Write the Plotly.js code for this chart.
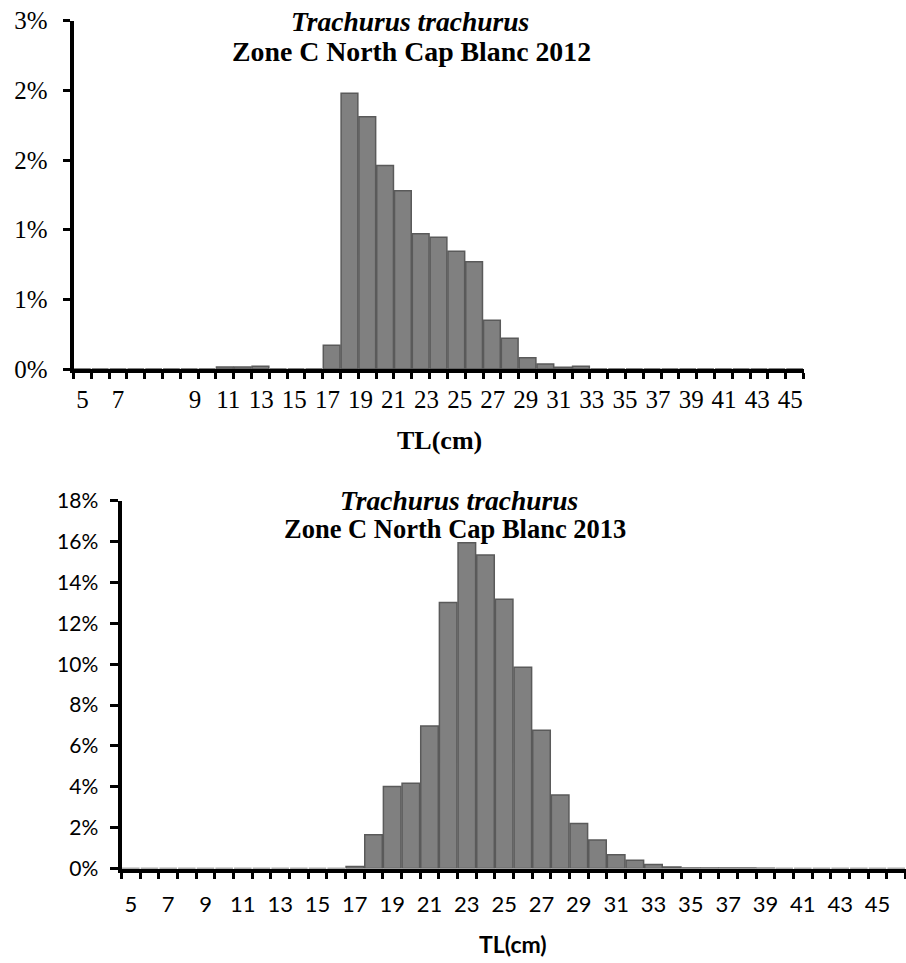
<!DOCTYPE html>
<html>
<head>
<meta charset="utf-8">
<script src="https://cdn.plot.ly/plotly-3.0.1.min.js"></script>
<style>
  html, body { margin: 0; padding: 0; background: #ffffff; }
  #chart { width: 906px; height: 963px; }
</style>
</head>
<body>
<div id="chart"></div>
<script>
// ---------- Data ----------
// 2012 panel: length classes (cm) and share of individuals (%)
const bins2012 = [5,6,7,8,9,10,11,12,13,14,15,16,17,18,19,20,21,22,23,24,25,26,27,28,29,30,31,32,33,34,35,36,37,38,39,40,41,42,43,44,45];
const pct2012  = [0,0,0,0,0,0,0,0,0.015,0.015,0.02,0,0,0,0.17,1.98,1.81,1.46,1.28,0.97,0.945,0.845,0.77,0.35,0.22,0.08,0.036,0.012,0.02,0,0,0,0,0,0,0,0,0,0,0,0];
const xLabels2012 = ['5','7','9','11','13','15','17','19','21','23','25','27','29','31','33','35','37','39','41','43','45'];
const yLabels2012 = ['0%','1%','1%','2%','2%','3%'];

// 2013 panel
const bins2013 = [5,6,7,8,9,10,11,12,13,14,15,16,17,18,19,20,21,22,23,24,25,26,27,28,29,30,31,32,33,34,35,36,37,38,39,40,41,42,43,44,45,46];
const pct2013  = [0,0,0,0,0,0,0,0,0,0,0,0,0.1,1.65,4.01,4.17,6.97,13.02,15.94,15.34,13.18,9.85,6.76,3.6,2.2,1.4,0.67,0.4,0.2,0.07,0.03,0.02,0.02,0.02,0.01,0,0,0,0,0,0,0];
const xLabels2013 = ['5','7','9','11','13','15','17','19','21','23','25','27','29','31','33','35','37','39','41','43','45'];

const speciesName = 'Trachurus trachurus';
const title2012 = 'Zone C North Cap Blanc 2012';
const title2013 = 'Zone C North Cap Blanc 2013';
const axisTitle = 'TL(cm)';

// ---------- Helpers ----------
const W = 906, H = 963;
const px = v => v / W;            // horizontal pixel -> paper
const py = v => 1 - v / H;        // vertical pixel -> paper
const boundaries = bins => bins.map(b => b - 0.5).concat([bins[bins.length - 1] + 0.5]);

const SERIF = 'Liberation Serif, Times New Roman, serif';
const SANS = 'Lato, Carlito, Calibri, sans-serif';

// label placement of the 2012 axis, as drawn in the reference (label rows are not aligned on the classes)
const xLabelPos2012 = [5, 7, 11.33, 13.19, 15.04, 16.90, 18.76, 20.62, 22.47, 24.33, 26.19, 28.04, 29.90, 31.76, 33.61, 35.47, 37.33, 39.19, 41.04, 42.90, 44.76];
const xLabelPos2013 = bins2013.filter((b, i) => i % 2 === 0 && b <= 45);

const barStyle = {
  color: '#808080',
  line: { color: '#5a5a5a', width: 1.5 }
};

const traces = [
  { type: 'bar', x: bins2012, y: pct2012, xaxis: 'x', yaxis: 'y', marker: barStyle, hoverinfo: 'x+y', showlegend: false },
  { type: 'bar', x: bins2013, y: pct2013, xaxis: 'x2', yaxis: 'y2', marker: barStyle, hoverinfo: 'x+y', showlegend: false }
];

const layout = {
  width: W, height: H,
  margin: { l: 0, r: 0, t: 0, b: 0 },
  paper_bgcolor: '#ffffff',
  plot_bgcolor: '#ffffff',
  bargap: 0.06,
  showlegend: false,
  xaxis: {
    domain: [px(73.5), px(803.5)], anchor: 'y',
    range: [4.5, 45.5], fixedrange: true,
    showgrid: false, zeroline: false,
    showline: true, linewidth: 4, linecolor: '#000',
    tickmode: 'array', tickvals: xLabelPos2012, ticktext: xLabels2012,
    ticks: '', ticklabelstandoff: 5,
    tickfont: { family: SERIF, size: 25, color: '#000' },
    minor: { tickmode: 'array', tickvals: boundaries(bins2012), ticks: 'outside', ticklen: 6, tickwidth: 3, tickcolor: '#000', showgrid: false }
  },
  yaxis: {
    domain: [py(369), py(20.7)], anchor: 'x',
    range: [0, 2.5], fixedrange: true,
    showgrid: false, zeroline: false,
    showline: true, linewidth: 4, linecolor: '#000',
    tickmode: 'array', tickvals: [0, 0.5, 1, 1.5, 2, 2.5], ticktext: yLabels2012,
    ticks: 'outside', ticklen: 7, tickwidth: 3, tickcolor: '#000',
    ticklabelstandoff: 10,
    tickfont: { family: SERIF, size: 25, color: '#000' }
  },
  xaxis2: {
    domain: [px(121.5), px(905.5)], anchor: 'y2',
    range: [4.5, 46.5], fixedrange: true,
    showgrid: false, zeroline: false,
    showline: true, linewidth: 4, linecolor: '#000',
    tickmode: 'array', tickvals: xLabelPos2013, ticktext: xLabels2013,
    ticks: '', ticklabelstandoff: 13,
    tickfont: { family: SANS, size: 22, color: '#000' },
    minor: { tickmode: 'array', tickvals: boundaries(bins2013), ticks: 'outside', ticklen: 6, tickwidth: 3, tickcolor: '#000', showgrid: false }
  },
  yaxis2: {
    domain: [py(868.5), py(500.7)], anchor: 'x2',
    range: [0, 18], fixedrange: true,
    showgrid: false, zeroline: false,
    showline: true, linewidth: 4, linecolor: '#000',
    tickmode: 'linear', tick0: 0, dtick: 2, ticksuffix: '%',
    ticks: 'outside', ticklen: 8, tickwidth: 3, tickcolor: '#000',
    ticklabelstandoff: 7,
    tickfont: { family: SANS, size: 21, color: '#000' }
  },
  annotations: [
    { xref: 'paper', yref: 'paper', x: px(410), y: py(21), xanchor: 'center', yanchor: 'middle', showarrow: false,
      text: '<b><i>' + speciesName + '</i></b>', font: { family: SERIF, size: 27.5, color: '#000' } },
    { xref: 'paper', yref: 'paper', x: px(411), y: py(51), xanchor: 'center', yanchor: 'middle', showarrow: false,
      text: '<b>' + title2012 + '</b>', font: { family: SERIF, size: 27.8, color: '#000' } },
    { xref: 'paper', yref: 'paper', x: px(439), y: py(440), xanchor: 'center', yanchor: 'middle', showarrow: false,
      text: '<b>' + axisTitle + '</b>', font: { family: SERIF, size: 26, color: '#000' } },
    { xref: 'paper', yref: 'paper', x: px(459), y: py(501), xanchor: 'center', yanchor: 'middle', showarrow: false,
      text: '<b><i>' + speciesName + '</i></b>', font: { family: SERIF, size: 27.5, color: '#000' } },
    { xref: 'paper', yref: 'paper', x: px(455), y: py(529), xanchor: 'center', yanchor: 'middle', showarrow: false,
      text: '<b>' + title2013 + '</b>', font: { family: SERIF, size: 26.5, color: '#000' } },
    { xref: 'paper', yref: 'paper', x: px(513), y: py(944), xanchor: 'center', yanchor: 'middle', showarrow: false,
      text: '<b>' + axisTitle + '</b>', font: { family: SANS, size: 23, color: '#000' } }
  ]
};

Plotly.newPlot('chart', traces, layout, { staticPlot: true, displayModeBar: false });
</script>
</body>
</html>
